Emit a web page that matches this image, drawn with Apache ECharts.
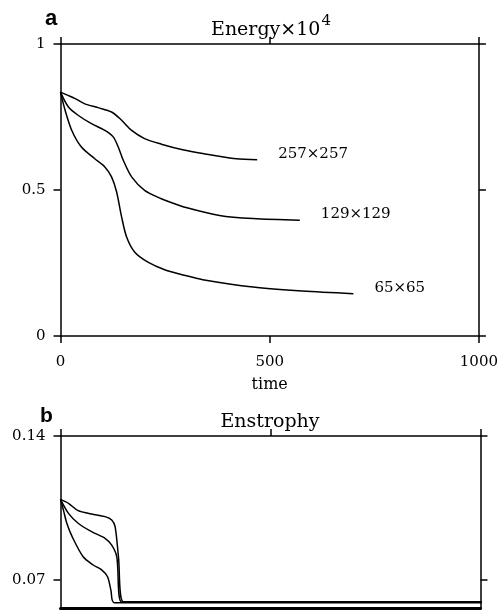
<!DOCTYPE html>
<html>
<head>
<meta charset="utf-8">
<script src="https://cdn.jsdelivr.net/npm/echarts@6/dist/echarts.min.js"></script>
<style>
html,body{margin:0;padding:0;background:#fff;}
#chart{width:501px;height:612px;}
</style>
</head>
<body>
<div id="chart"></div>
<script>
// ---------- Data ----------
// Panel a: Energy x 10^4 vs time
const time257 = [0, 18, 35, 58, 90, 122, 146, 170, 201, 241, 292, 340, 420, 470];
const energy257 = [0.835, 0.824, 0.813, 0.795, 0.782, 0.767, 0.739, 0.704, 0.676, 0.657, 0.638, 0.625, 0.607, 0.604];

const time129 = [0, 19, 42, 74, 106, 126, 138, 150, 170, 201, 241, 261, 300, 380, 460, 572];
const energy129 = [0.835, 0.784, 0.756, 0.727, 0.704, 0.682, 0.647, 0.602, 0.545, 0.499, 0.470, 0.459, 0.440, 0.413, 0.402, 0.396];

const time65 = [0, 11, 27, 50, 82, 106, 122, 134, 146, 158, 177, 209, 249, 296, 340, 460, 578, 700];
const energy65 = [0.835, 0.773, 0.704, 0.647, 0.607, 0.579, 0.545, 0.494, 0.408, 0.339, 0.288, 0.253, 0.227, 0.208, 0.193, 0.168, 0.154, 0.145];

// Panel b: Enstrophy vs time (picture is cut off at the bottom)
const tEns257 = [0, 19, 42, 74, 106, 122, 130, 138, 150, 1050];
const ens257 = [0.1092, 0.1073, 0.1037, 0.1021, 0.1008, 0.0992, 0.0959, 0.0813, 0.0594, 0.0594];

const tEns129 = [0, 19, 42, 74, 106, 122, 134, 146, 1050];
const ens129 = [0.1092, 0.1024, 0.0976, 0.0935, 0.0903, 0.0870, 0.0813, 0.0592, 0.0592];

const tEns65 = [0, 7, 15, 28, 54, 78, 98, 112, 120, 128, 1050];
const ens65 = [0.1092, 0.1040, 0.0976, 0.0910, 0.0813, 0.0773, 0.0749, 0.0716, 0.0651, 0.0590, 0.0590];

const seriesNames = ['257×257', '129×129', '65×65'];
const timeTicks = [0, 500, 1000];
const enstrophyTicks = [0.07, 0.14];

// ---------- Build ----------
function pairs(xs, ys) { return xs.map((x, i) => [x, ys[i]]); }

const serif = 'DejaVu Serif';
const black = '#000';

function lineSeries(name, data, xi, yi, withLabel, clip) {
  return {
    name: name, type: 'line', xAxisIndex: xi, yAxisIndex: yi,
    data: data, smooth: 0.3, symbol: 'none', showSymbol: false,
    clip: clip, animation: false, silent: true,
    lineStyle: { color: black, width: 1.5 },
    endLabel: withLabel ? {
      show: true, formatter: '{a}', distance: 21, offset: [0, -6],
      color: black, fontFamily: serif, fontSize: 15
    } : { show: false }
  };
}

const plain = v => String(v);
const axisLine = { show: true, onZero: false, lineStyle: { color: black, width: 1.5 } };
const tick = { show: true, inside: false, length: 7, lineStyle: { color: black, width: 1.5 } };
const lab = { color: black, fontFamily: serif, fontSize: 15, formatter: plain };

const option = {
  backgroundColor: '#fff',
  animation: false,
  title: [
    { text: 'a', left: 45, top: 30, padding: 0, textAlign: 'left', textVerticalAlign: 'bottom',
      textStyle: { fontFamily: 'Liberation Sans', fontWeight: 'bold', fontSize: 22, color: black } },
    { text: 'b', left: 40, top: 427, padding: 0, textAlign: 'left', textVerticalAlign: 'bottom',
      textStyle: { fontFamily: 'Liberation Sans', fontWeight: 'bold', fontSize: 21, color: black } },
    { text: '{m|Energy×10}{s|4}', left: 271, top: 40, padding: 0, textAlign: 'center', textVerticalAlign: 'bottom',
      textStyle: { fontWeight: 'normal', rich: {
        m: { fontFamily: serif, fontSize: 19, fontWeight: 'normal', color: black, verticalAlign: 'bottom' },
        s: { fontFamily: serif, fontSize: 15, fontWeight: 'normal', color: black, verticalAlign: 'bottom', padding: [0, 0, 11, 1] }
      } } },
    { text: 'Enstrophy', left: 270, top: 432, padding: 0, textAlign: 'center', textVerticalAlign: 'bottom',
      textStyle: { fontFamily: serif, fontSize: 19, fontWeight: 'normal', color: black } }
  ],
  grid: [
    { left: 60.5, top: 44, width: 420, height: 292 },
    { left: 60.5, top: 436, width: 420, height: 171.8 }
  ],
  xAxis: [
    { gridIndex: 0, type: 'value', position: 'bottom', min: 0, max: 1000, interval: 500,
      axisLine: axisLine, axisTick: tick, splitLine: { show: false },
      axisLabel: Object.assign({ margin: 19, customValues: timeTicks }, lab),
      name: 'time', nameLocation: 'middle', nameGap: 41,
      nameTextStyle: { color: black, fontFamily: serif, fontSize: 16 } },
    { gridIndex: 0, type: 'value', position: 'top', min: 0, max: 1000, interval: 500,
      axisLine: axisLine, axisTick: tick, splitLine: { show: false }, axisLabel: { show: false } },
    { gridIndex: 1, type: 'value', position: 'bottom', min: 0, max: 1000, interval: 500,
      axisLine: { show: true, onZero: false, lineStyle: { color: black, width: 3 } },
      axisTick: { show: false }, splitLine: { show: false }, axisLabel: { show: false } },
    { gridIndex: 1, type: 'value', position: 'top', min: 0, max: 1000, interval: 500,
      axisLine: axisLine, axisTick: tick, splitLine: { show: false }, axisLabel: { show: false } }
  ],
  yAxis: [
    { gridIndex: 0, type: 'value', position: 'left', min: 0, max: 1, interval: 0.5,
      axisLine: axisLine, axisTick: tick, splitLine: { show: false },
      axisLabel: Object.assign({ margin: 15 }, lab) },
    { gridIndex: 0, type: 'value', position: 'right', min: 0, max: 1, interval: 0.5,
      axisLine: axisLine, axisTick: tick, splitLine: { show: false }, axisLabel: { show: false } },
    { gridIndex: 1, type: 'value', position: 'left', min: 0.0565, max: 0.14,
      axisLine: axisLine, axisTick: Object.assign({ customValues: enstrophyTicks }, tick),
      splitLine: { show: false },
      axisLabel: Object.assign({ margin: 15, customValues: enstrophyTicks }, lab) },
    { gridIndex: 1, type: 'value', position: 'right', min: 0.0565, max: 0.14,
      axisLine: axisLine, axisTick: Object.assign({ customValues: enstrophyTicks }, tick),
      splitLine: { show: false }, axisLabel: { show: false } }
  ],
  series: [
    lineSeries(seriesNames[0], pairs(time257, energy257), 0, 0, true, true),
    lineSeries(seriesNames[1], pairs(time129, energy129), 0, 0, true, true),
    lineSeries(seriesNames[2], pairs(time65, energy65), 0, 0, true, true),
    lineSeries(seriesNames[0] + ' ', pairs(tEns257, ens257), 2, 2, false, false),
    lineSeries(seriesNames[1] + ' ', pairs(tEns129, ens129), 2, 2, false, false),
    lineSeries(seriesNames[2] + ' ', pairs(tEns65, ens65), 2, 2, false, false)
  ]
};

const chart = echarts.init(document.getElementById('chart'), null, { renderer: 'canvas' });
chart.setOption(option);
</script>
</body>
</html>
